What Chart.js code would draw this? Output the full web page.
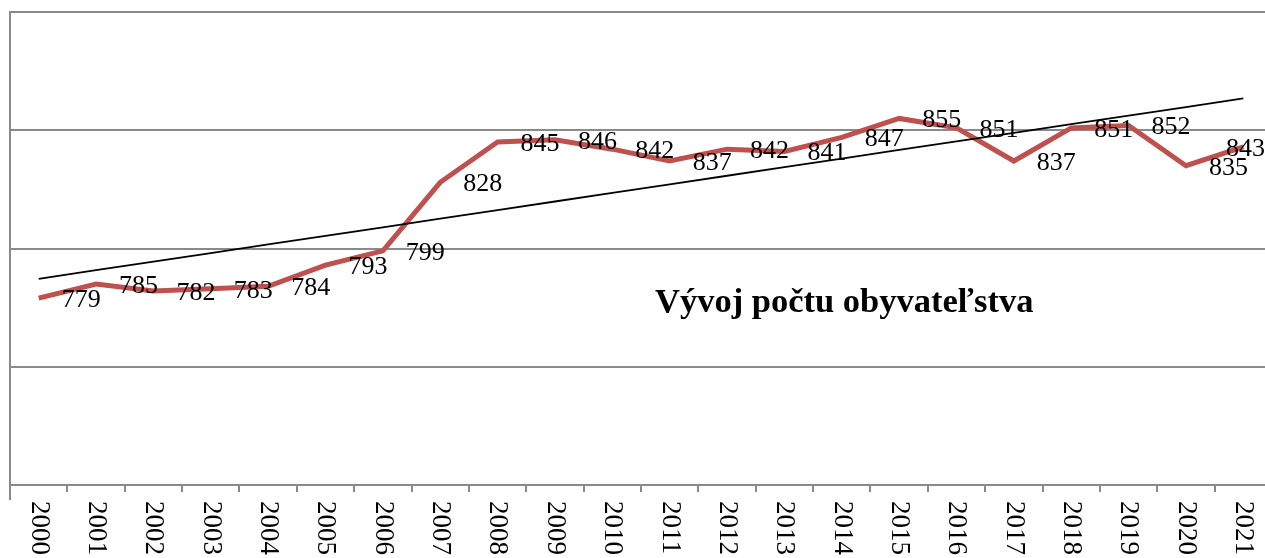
<!DOCTYPE html>
<html>
<head>
<meta charset="utf-8">
<script src="https://cdn.jsdelivr.net/npm/chart.js@4/dist/chart.umd.min.js"></script>
<style>
  html, body { margin: 0; padding: 0; background: #fff; overflow: hidden; }
  .canvasDiv { width: 1272px; height: 558px; }
</style>
</head>
<body>
<div class="canvasDiv"><canvas id="myCanvas" width="1272" height="558"></canvas></div>
<script>
const years = ["2000", "2001", "2002", "2003", "2004", "2005", "2006", "2007", "2008", "2009", "2010",
  "2011", "2012", "2013", "2014", "2015", "2016", "2017", "2018", "2019", "2020", "2021"];
const population = [779, 785, 782, 783, 784, 793, 799, 828, 845, 846, 842,
  837, 842, 841, 847, 855, 851, 837, 851, 852, 835, 843];
const chartTitle = "Vývoj počtu obyvateľstva";
const yMin = 700;
const yMax = 900;
const yStep = 50;

// linear trend (least squares) over the population values
function linearTrend(values) {
  const n = values.length;
  let sx = 0, sy = 0, sxy = 0, sxx = 0;
  values.forEach((v, i) => {
    sx += i; sy += v; sxy += i * v; sxx += i * i;
  });
  const slope = (n * sxy - sx * sy) / (n * sxx - sx * sx);
  const icpt = (sy - slope * sx) / n;
  return values.map((v, i) => icpt + slope * i);
}
const trend = linearTrend(population);

const gridGrey = "#8a8a8a";
const serif = "'Liberation Serif', 'Times New Roman', serif";

const labelsPlugin = {
  id: "labelsPlugin",
  afterDraw(chart) {
    const ctx = chart.ctx;
    const area = chart.chartArea;
    const xScale = chart.scales.x;
    ctx.save();

    // little extension of the left axis line below the x axis
    ctx.strokeStyle = gridGrey;
    ctx.lineWidth = 2;
    ctx.beginPath();
    ctx.moveTo(area.left, area.bottom);
    ctx.lineTo(area.left, area.bottom + 15);
    ctx.stroke();

    // data labels, to the right of each point
    ctx.fillStyle = "#000";
    ctx.font = "26px " + serif;
    ctx.textAlign = "left";
    ctx.textBaseline = "middle";
    const meta = chart.getDatasetMeta(0);
    meta.data.forEach((pt, i) => {
      const txt = String(population[i]);
      const w = ctx.measureText(txt).width;
      let x = pt.x + 23;
      let y = pt.y + 2;
      if (x + w > 1265) {
        x = 1265 - w;
      }
      ctx.fillText(txt, x, y);
    });

    // category labels, rotated clockwise
    ctx.font = "27px " + serif;
    years.forEach((yr, i) => {
      const x = xScale.getPixelForValue(i);
      ctx.save();
      ctx.translate(x, area.bottom + 16);
      ctx.rotate(Math.PI / 2);
      ctx.textAlign = "left";
      ctx.textBaseline = "middle";
      ctx.fillText(yr, 0, 0);
      ctx.restore();
    });

    // title inside plot
    ctx.font = "bold 34.5px " + serif;
    ctx.textAlign = "left";
    ctx.textBaseline = "middle";
    ctx.fillText(chartTitle, 655, 303);
    ctx.restore();
  },
};

const canvas = document.querySelector("#myCanvas");
const data = {
  labels: years,
  datasets: [
    {
      label: "Počet obyvateľov",
      data: population,
      borderColor: "#C0504D",
      backgroundColor: "#C0504D",
      borderWidth: 5,
      pointRadius: 0,
      tension: 0,
      order: 2,
    },
    {
      label: "Lineárny trend",
      data: trend,
      borderColor: "#000",
      borderWidth: 1.8,
      pointRadius: 0,
      tension: 0,
      order: 1,
    },
  ],
};

const config = {
  type: "line",
  data: data,
  options: {
    responsive: false,
    animation: false,
    devicePixelRatio: 1,
    layout: { padding: { left: 10, top: 12, right: 0, bottom: 0 } },
    plugins: {
      legend: { display: false },
      tooltip: { enabled: false },
      title: { display: false },
    },
    scales: {
      x: {
        offset: true,
        grid: {
          offset: true,
          drawOnChartArea: false,
          drawTicks: true,
          tickLength: 7,
          color: gridGrey,
          lineWidth: 2,
        },
        border: { display: true, color: gridGrey, width: 2 },
        ticks: { display: false },
        afterFit(scale) {
          scale.height = 73;
        },
      },
      y: {
        min: yMin,
        max: yMax,
        ticks: { display: false, stepSize: yStep },
        grid: { color: gridGrey, lineWidth: 2, drawTicks: false },
        border: { display: true, color: gridGrey, width: 2 },
        afterFit(scale) {
          scale.width = 0;
        },
      },
    },
  },
  plugins: [labelsPlugin],
};
const myChart = new Chart(canvas, config);
</script>
</body>
</html>
